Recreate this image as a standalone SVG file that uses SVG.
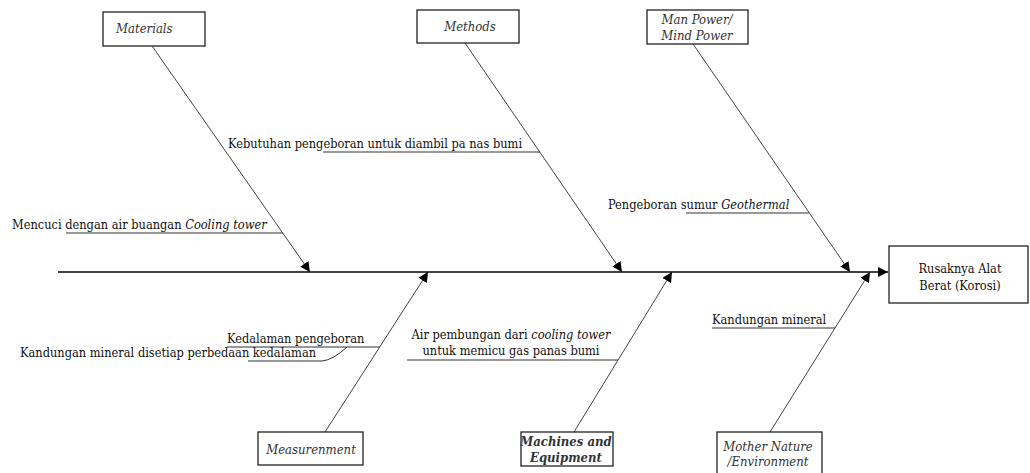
<svg xmlns="http://www.w3.org/2000/svg" width="1030" height="473" viewBox="0 0 1030 473">
  <style>
    .box { fill: #ffffff; stroke: #222; stroke-width: 1.3; }
    text { font-family: "DejaVu Serif Condensed", "DejaVu Serif", serif; font-stretch: condensed; }
    .cat { font-style: italic; font-size: 13px; fill: #333; }
    .lbl { font-size: 12.7px; fill: #111; }
    .bone { stroke: #444; stroke-width: 1; fill: none; }
    .spine { stroke: #000; stroke-width: 1.5; fill: none; }
    .ul { stroke: #333; stroke-width: 1; fill: none; }
  </style>
  <defs>
    <marker id="arrow" viewBox="0 0 10 10" refX="10" refY="5" markerWidth="10" markerHeight="10" markerUnits="userSpaceOnUse" orient="auto">
      <path d="M0,0 L10,5 L0,10 z" fill="#000"/>
    </marker>
  </defs>

  <!-- connectors: spine, category bones and cause underlines -->
  <g id="connectors">
    <line class="spine" x1="58" y1="272" x2="888" y2="272" marker-end="url(#arrow)"/>
    <line class="bone" x1="152" y1="46" x2="310" y2="272" marker-end="url(#arrow)"/>
    <line class="bone" x1="465" y1="43" x2="622" y2="272" marker-end="url(#arrow)"/>
    <line class="bone" x1="693" y1="44" x2="850" y2="272" marker-end="url(#arrow)"/>
    <line class="bone" x1="325" y1="432" x2="428" y2="272" marker-end="url(#arrow)"/>
    <line class="bone" x1="574" y1="432" x2="672" y2="272" marker-end="url(#arrow)"/>
    <line class="bone" x1="770" y1="432" x2="870" y2="272" marker-end="url(#arrow)"/>

    <line class="ul" x1="66" y1="233" x2="283" y2="233"/>
    <line class="ul" x1="323" y1="152" x2="540" y2="152"/>
    <line class="ul" x1="686" y1="213" x2="809" y2="213"/>
    <line class="ul" x1="227" y1="347" x2="380" y2="347"/>
    <line class="ul" x1="248" y1="361" x2="322" y2="361"/>
    <path class="ul" d="M322,361 Q333,360 347,347"/>
    <line class="ul" x1="407" y1="360" x2="618" y2="360"/>
    <line class="ul" x1="712" y1="328" x2="835" y2="328"/>
  </g>

  <!-- cause labels -->
  <g id="causes">
    <text class="lbl" x="12" y="229">Mencuci dengan air buangan <tspan font-style="italic">Cooling tower</tspan></text>
    <text class="lbl" x="228" y="148">Kebutuhan pengeboran untuk diambil pa nas bumi</text>
    <text class="lbl" x="608" y="209">Pengeboran sumur <tspan font-style="italic">Geothermal</tspan></text>
    <text class="lbl" x="227" y="343">Kedalaman pengeboran</text>
    <text class="lbl" x="20" y="357">Kandungan mineral disetiap perbedaan kedalaman</text>
    <text class="lbl" x="511" y="339" text-anchor="middle">Air pembungan dari <tspan font-style="italic">cooling tower</tspan></text>
    <text class="lbl" x="511" y="355" text-anchor="middle">untuk memicu gas panas bumi</text>
    <text class="lbl" x="712" y="324">Kandungan mineral</text>
  </g>

  <g id="materials">
    <rect class="box" x="103" y="12" width="102" height="34"/>
    <text class="cat" x="116" y="33">Materials</text>
  </g>
  <g id="methods">
    <rect class="box" x="417" y="10" width="102" height="33"/>
    <text class="cat" x="470" y="31" text-anchor="middle">Methods</text>
  </g>
  <g id="man-power">
    <rect class="box" x="647" y="10" width="101" height="34"/>
    <text class="cat" x="697" y="24" text-anchor="middle">Man Power/</text>
    <text class="cat" x="697" y="40" text-anchor="middle">Mind Power</text>
  </g>
  <g id="measurement">
    <rect class="box" x="258" y="432" width="105" height="33"/>
    <text class="cat" x="311" y="454" text-anchor="middle">Measurenment</text>
  </g>
  <g id="machines">
    <rect class="box" x="521" y="432" width="92" height="34"/>
    <text class="cat" x="566" y="446" text-anchor="middle" font-weight="bold" fill="#333">Machines and</text>
    <text class="cat" x="566" y="462" text-anchor="middle" font-weight="bold" fill="#333">Equipment</text>
  </g>
  <g id="mother-nature">
    <rect class="box" x="717" y="432" width="105" height="45"/>
    <text class="cat" x="768" y="451" text-anchor="middle">Mother Nature</text>
    <text class="cat" x="768" y="466" text-anchor="middle">/Environment</text>
  </g>
  <g id="effect">
    <rect class="box" x="889" y="246" width="139" height="57"/>
    <text class="lbl" x="960" y="273" text-anchor="middle" fill="#333">Rusaknya Alat</text>
    <text class="lbl" x="960" y="290" text-anchor="middle" fill="#333">Berat (Korosi)</text>
  </g>
</svg>
